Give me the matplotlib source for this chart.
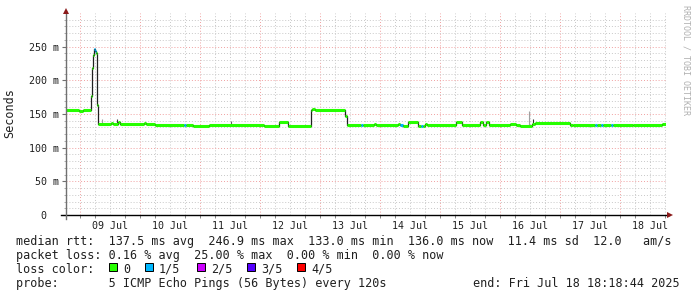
import matplotlib
matplotlib.use('Agg')
import matplotlib.pyplot as plt
from matplotlib.patches import Rectangle

# x axis in hours since 09 Jul 00:00; graph covers 10 days up to Fri Jul 18 18:18:44
START_H = -5.688
END_H = 234.312

# median rtt steps: start hour, value in ms, lost pings (out of 5)
seg_start = [-5.69, -0.5, 1.0, 4.4, 4.8, 5.2, 5.6, 6.0, 6.4, 6.8, 7.2,
             12.4, 13.0, 15.0, 15.8, 25.6, 26.4, 30.0, 41.6, 42.4, 45.0,
             51.4, 73.4, 79.4, 83.0, 92.2, 92.8, 94.0, 106.0, 106.6, 112.4,
             113.0, 117.6, 118.4, 127.0, 128.0, 129.0, 131.0, 135.0, 136.4,
             137.2, 137.8, 138.6, 150.2, 152.6, 159.8, 161.0, 162.2, 163.4,
             171.8, 174.2, 176.0, 180.6, 181.8, 195.8, 197.0, 205.8, 206.6,
             208.4, 209.2, 212.4, 213.2, 221.0, 232.6]
median_ms = [156.5, 155.0, 156.5, 176.0, 218.0, 237.0, 246.9, 244.0, 240.0, 163.0, 135.5,
             136.5, 135.5, 137.5, 135.5, 137.0, 135.5, 133.5, 134.0, 133.5, 132.4,
             134.4, 132.5, 137.4, 132.5, 155.2, 156.7, 155.2, 147.0, 133.0, 133.0,
             133.0, 134.5, 133.0, 134.5, 134.0, 132.5, 137.4, 132.5, 132.5,
             132.5, 134.5, 133.0, 137.4, 133.0, 137.4, 133.0, 137.4, 133.0,
             135.0, 133.0, 132.5, 135.5, 135.9, 133.0, 134.4, 134.4, 134.4,
             134.4, 134.4, 134.4, 134.4, 133.5, 135.0]
loss = [0, 0, 0, 0, 0, 0, 1, 1, 0, 0, 0,
        0, 0, 0, 0, 0, 0, 0, 1, 0, 0,
        0, 0, 0, 0, 0, 0, 0, 0, 0, 1,
        0, 0, 0, 0, 1, 0, 0, 0, 1,
        0, 0, 0, 0, 0, 0, 0, 0, 0,
        0, 0, 0, 0, 0, 0, 0, 1, 0,
        1, 0, 1, 0, 0, 0]

# smoke spikes (ping spread)
smoke_h = [8.9, 14.6, 60.2, 179.4, 181.0]
smoke_lo = [135.5, 135.5, 134.4, 133.0, 133.0]
smoke_hi = [143.0, 143.0, 140.0, 155.0, 143.0]

day_labels = ['09 Jul', '10 Jul', '11 Jul', '12 Jul', '13 Jul',
              '14 Jul', '15 Jul', '16 Jul', '17 Jul', '18 Jul']
y_ticks = [0, 50, 100, 150, 200, 250]
y_labels = ['0  ', '50 m', '100 m', '150 m', '200 m', '250 m']

loss_labels = ['0', '1/5', '2/5', '3/5', '4/5']
LOSS_COLOURS = ['#26ff00', '#00b8ff', '#cc00ff', '#5500ff', '#ff0000']

legend_lines = [
    'median rtt:  137.5 ms avg  246.9 ms max  133.0 ms min  136.0 ms now  11.4 ms sd  12.0   am/s',
    'packet loss: 0.16 % avg  25.00 % max  0.00 % min  0.00 % now',
    'loss color:',
    'probe:       5 ICMP Echo Pings (56 Bytes) every 120s',
]
end_text = 'end: Fri Jul 18 18:18:44 2025'

MONO = 'DejaVu Sans Mono'
GRID_COLOUR = '#c8c8c8'
MGRID_COLOUR = '#f0a0a0'
ARROW_COLOUR = '#8b1a1a'
W, H = 697, 297

fig = plt.figure(figsize=(W / 100, H / 100), dpi=100)
fig.patch.set_facecolor('white')
ax = fig.add_axes([66 / W, (H - 215) / H, 600 / W, 202 / H])
ax.set_xlim(START_H, END_H)
ax.set_ylim(0, 300)
for s in ax.spines.values():
    s.set_visible(False)

# grid: grey every 6 h / 10 ms, red every day / 50 ms
for h in range(-0, 240, 6):
    if h > START_H:
        c = MGRID_COLOUR if h % 24 == 0 else GRID_COLOUR
        ax.axvline(h, color=c, lw=0.7, ls=(0, (1, 2)), zorder=0)
for v in range(10, 300, 10):
    c = MGRID_COLOUR if v % 50 == 0 else GRID_COLOUR
    ax.axhline(v, color=c, lw=0.7, ls=(0, (1, 2)), zorder=0)

# smoke
ax.vlines(smoke_h, smoke_lo, smoke_hi, colors=['#a0a0a0', '#404040', '#606060', '#a0a0a0', '#303030'],
          lw=0.8, zorder=2)

# median line: dark steps underneath, loss-coloured flats on top
seg_end = seg_start[1:] + [END_H]
ax.step(seg_start + [END_H], median_ms + [median_ms[-1]], where='post',
        color='#202020', lw=0.9, zorder=3)
ax.hlines(median_ms, seg_start, seg_end, colors=[LOSS_COLOURS[l] for l in loss],
          lw=2.2, zorder=4)

# axes lines with arrows
ax.plot([-5 / 600, 1 + 3 / 600], [0, 0], color='black', lw=1.0,
        transform=ax.transAxes, clip_on=False, zorder=5)
ax.plot([0, 0], [-4 / 202, 1 + 2 / 202], color='#707070', lw=1.0,
        transform=ax.transAxes, clip_on=False, zorder=5)
ax.plot([1 + 4 / 600], [0], marker='>', ms=4, color=ARROW_COLOUR, mew=0,
        transform=ax.transAxes, clip_on=False, zorder=6)
ax.plot([0], [1 + 2 / 202], marker='^', ms=4, color=ARROW_COLOUR, mew=0,
        transform=ax.transAxes, clip_on=False, zorder=6)

# ticks
noons = [12 + 24 * i for i in range(len(day_labels))]
ax.set_xticks(noons, day_labels)
ax.set_xticks([h for h in range(0, 240, 6) if h < END_H], minor=True)
ax.tick_params(axis='x', which='major', length=0, pad=4.1)
ax.tick_params(axis='x', which='minor', length=2, color='#707070')
ax.set_yticks(y_ticks, y_labels)
ax.set_yticks(range(10, 300, 10), minor=True)
ax.tick_params(axis='y', which='major', length=3, pad=2.2, color='#707070')
ax.tick_params(axis='y', which='minor', length=1.5, color='#a0a0a0')
for lab in ax.get_xticklabels() + ax.get_yticklabels():
    lab.set_fontfamily(MONO)
    lab.set_fontsize(7.2)
    lab.set_color('#202020')

fig.text(10 / W, 1 - 113 / H, 'Seconds', family=MONO, fontsize=8.5,
         rotation=90, ha='center', va='center', color='#202020')
fig.text(686 / W, 1 - 5 / H, 'RRDTOOL / TOBI OETIKER', family=MONO, fontsize=6,
         rotation=-90, ha='center', va='top', color='#b0b0b0')

# legend block
baselines = [245, 259, 273, 287]
for txt, y in zip(legend_lines, baselines):
    fig.text(16 / W, 1 - y / H, txt, family=MONO, fontsize=8.5,
             va='baseline', ha='left', color='#202020')
fig.text(680 / W, 1 - 287 / H, end_text, family=MONO, fontsize=8.5,
         va='baseline', ha='right', color='#202020')

square_x = [109, 145, 197, 247, 297]
for sx, lab, col in zip(square_x, loss_labels, LOSS_COLOURS):
    fig.patches.append(Rectangle((sx / W, 1 - 271 / H), 8 / W, 8 / H,
                                 transform=fig.transFigure, facecolor=col,
                                 edgecolor='black', lw=0.7))
    fig.text((sx + 14) / W, 1 - 273 / H, lab, family=MONO, fontsize=8.5,
             va='baseline', ha='left', color='#202020')

fig.savefig('out.png', dpi=100)
